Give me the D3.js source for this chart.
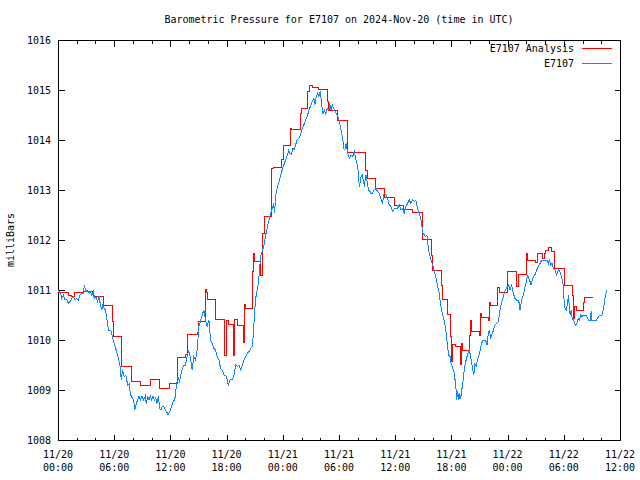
<!DOCTYPE html>
<html><head><meta charset="utf-8">
<script src="https://cdn.jsdelivr.net/npm/d3@7"></script>
<style>
body{margin:0;background:#fff}
svg{display:block}
text{font-family:"DejaVu Sans Mono",monospace;font-size:10px;fill:#000}
</style></head><body>
<svg id="c" width="640" height="480"></svg>
<script>
const title = "Barometric Pressure for E7107 on 2024-Nov-20 (time in UTC)";
const yLabel = "milliBars";
const seriesNames = ["E7107 Analysis", "E7107"];
const seriesColors = ["#ff0000", "#0f88ff"];
// hours since 11/20 00:00 UTC
const xTickHours = [0, 6, 12, 18, 24, 30, 36, 42, 48, 54, 60];
const xTickDates = ["11/20","11/20","11/20","11/20","11/21","11/21","11/21","11/21","11/22","11/22","11/22"];
const xTickTimes = ["00:00","06:00","12:00","18:00","00:00","06:00","12:00","18:00","00:00","06:00","12:00"];
const yTicks = [1008, 1009, 1010, 1011, 1012, 1013, 1014, 1015, 1016];

// E7107 Analysis: [hour, mb] (step series)
const analysis = [[0,1010.95],[1.07,1010.90],[1.39,1010.88],[1.71,1010.95],[2.68,1010.97],[3.64,1010.92],[3.75,1010.88],[4.82,1010.70],[5.79,1010.37],[5.89,1010.08],[6.75,1009.48],[7.82,1009.17],[8.79,1009.09],[9.86,1009.22],[10.82,1009.04],[11.89,1009.13],[12.75,1009.65],[13.61,1009.72],[13.82,1010.12],[14.89,1010.15],[15.0,1010.37],[15.75,1011.01],[15.86,1010.95],[15.96,1010.81],[16.82,1010.41],[17.79,1009.70],[17.95,1010.40],[18.21,1010.32],[18.75,1009.70],[18.86,1010.42],[19.18,1010.30],[19.82,1009.96],[19.93,1010.72],[20.04,1010.63],[20.79,1011.37],[20.89,1011.74],[21.0,1011.57],[21.64,1011.30],[21.80,1011.80],[21.86,1012.14],[22.07,1012.47],[22.82,1013.43],[23.04,1013.45],[23.89,1013.61],[24.11,1013.90],[24.86,1014.23],[24.96,1014.21],[25.93,1014.53],[26.04,1014.63],[26.68,1014.97],[26.89,1015.10],[27.21,1015.05],[27.86,1015.01],[28.82,1014.77],[28.93,1014.60],[29.89,1014.40],[30.86,1013.75],[32.79,1013.40],[33.0,1013.23],[33.86,1013.03],[34.82,1012.85],[35.89,1012.70],[36.86,1012.62],[37.82,1012.55],[38.89,1012.01],[39.86,1011.70],[39.96,1011.39],[40.93,1011.10],[41.04,1010.81],[41.57,1010.52],[41.89,1010.07],[42.0,1009.57],[42.11,1009.91],[42.43,1009.87],[42.96,1009.52],[43.07,1009.93],[43.18,1009.80],[43.93,1010.10],[44.04,1010.40],[44.14,1010.17],[45.0,1010.10],[45.11,1010.54],[45.21,1010.45],[45.96,1010.40],[46.07,1010.76],[46.18,1010.70],[46.93,1011.05],[47.14,1010.95],[48.0,1011.38],[48.96,1011.07],[49.18,1011.31],[50.04,1011.73],[50.14,1011.60],[51.0,1011.55],[51.21,1011.73],[51.75,1011.64],[51.96,1011.73],[52.07,1011.80],[52.39,1011.85],[52.71,1011.78],[53.04,1011.43],[54.11,1011.10],[54.96,1010.90],[55.07,1010.43],[55.18,1010.67],[55.39,1010.59],[56.14,1010.75],[56.25,1010.86],[57.11,1010.86]];

// E7107 station observations: [hour, mb]
const station = [[0,1010.99],[0.29,1010.93],[0.39,1010.83],[0.57,1010.90],[0.75,1010.80],[0.93,1010.81],[1.11,1010.73],[1.29,1010.77],[1.46,1010.83],[1.64,1010.87],[1.82,1010.80],[2.0,1010.83],[2.18,1010.80],[2.36,1010.90],[2.54,1010.93],[2.71,1010.93],[2.82,1011.10],[2.96,1010.97],[3.14,1010.99],[3.32,1010.93],[3.43,1010.98],[3.61,1010.90],[3.79,1010.97],[3.89,1010.83],[4.07,1010.85],[4.21,1010.77],[4.39,1010.88],[4.50,1010.73],[4.68,1010.60],[4.79,1010.70],[4.93,1010.63],[5.07,1010.60],[5.21,1010.43],[5.39,1010.20],[5.64,1010.19],[5.82,1010.07],[6.0,1009.93],[6.21,1009.80],[6.36,1009.70],[6.64,1009.47],[6.75,1009.21],[6.89,1009.40],[7.07,1009.27],[7.25,1009.30],[7.43,1009.10],[7.61,1009.13],[7.71,1008.93],[7.89,1008.85],[8.07,1008.80],[8.21,1008.60],[8.36,1008.73],[8.50,1008.80],[8.64,1008.88],[8.79,1008.80],[8.96,1008.88],[9.14,1008.80],[9.32,1008.88],[9.43,1008.72],[9.57,1008.88],[9.71,1008.80],[9.86,1008.88],[10.0,1008.80],[10.14,1008.88],[10.29,1008.80],[10.43,1008.85],[10.57,1008.73],[10.71,1008.87],[10.86,1008.63],[11.0,1008.60],[11.14,1008.68],[11.29,1008.67],[11.46,1008.61],[11.64,1008.55],[11.75,1008.50],[11.93,1008.57],[12.11,1008.67],[12.29,1008.77],[12.46,1008.80],[12.61,1009.03],[12.79,1009.27],[12.96,1009.17],[13.11,1009.30],[13.25,1009.40],[13.43,1009.50],[13.61,1009.50],[13.79,1009.67],[13.96,1009.79],[14.14,1009.63],[14.32,1009.40],[14.50,1009.67],[14.68,1009.60],[14.86,1009.80],[15.04,1010.27],[15.21,1010.37],[15.39,1010.50],[15.57,1010.60],[15.75,1010.40],[15.93,1010.27],[16.11,1010.40],[16.29,1010.0],[16.46,1009.93],[16.64,1009.83],[16.82,1009.80],[17.0,1009.67],[17.18,1009.60],[17.36,1009.43],[17.54,1009.40],[17.71,1009.30],[17.89,1009.30],[18.07,1009.20],[18.18,1009.10],[18.36,1009.20],[18.61,1009.21],[18.79,1009.30],[18.96,1009.50],[19.14,1009.47],[19.32,1009.50],[19.50,1009.40],[19.68,1009.50],[19.86,1009.60],[20.04,1009.67],[20.21,1009.73],[20.39,1009.77],[20.57,1009.83],[20.75,1009.87],[20.89,1010.2],[21.0,1010.6],[21.14,1010.87],[21.29,1011.03],[21.43,1011.2],[21.54,1011.47],[21.64,1011.67],[21.79,1011.77],[21.89,1011.83],[22.04,1011.93],[22.14,1012.07],[22.29,1012.2],[22.43,1012.33],[22.57,1012.43],[22.71,1012.53],[22.86,1012.63],[23.0,1012.7],[23.14,1012.55],[23.21,1012.87],[23.36,1013.0],[23.5,1013.1],[23.64,1013.2],[23.79,1013.3],[23.93,1013.4],[24.11,1013.5],[24.29,1013.6],[24.46,1013.68],[24.64,1013.8],[24.75,1013.73],[24.93,1013.72],[25.07,1013.83],[25.21,1013.81],[25.36,1013.9],[25.54,1014.01],[25.71,1014.03],[25.89,1014.1],[26.07,1014.23],[26.25,1014.3],[26.43,1014.4],[26.61,1014.47],[26.79,1014.6],[26.96,1014.67],[27.14,1014.77],[27.32,1014.83],[27.43,1014.7],[27.57,1014.87],[27.71,1014.93],[27.86,1014.87],[28.0,1014.98],[28.14,1014.73],[28.29,1014.53],[28.43,1014.6],[28.57,1014.52],[28.75,1014.63],[28.93,1014.6],[29.0,1014.73],[29.14,1014.6],[29.29,1014.7],[29.5,1014.6],[29.82,1014.5],[30.0,1014.4],[30.14,1014.27],[30.29,1014.13],[30.43,1013.97],[30.54,1013.81],[30.71,1013.83],[30.75,1013.93],[30.93,1013.73],[31.11,1013.63],[31.29,1013.7],[31.46,1013.67],[31.64,1013.77],[31.82,1013.6],[32.0,1013.47],[32.14,1013.13],[32.18,1013.07],[32.36,1013.27],[32.5,1013.3],[32.64,1013.13],[32.71,1013.1],[32.89,1013.3],[33.0,1013.17],[33.14,1013.0],[33.25,1013.0],[33.39,1012.93],[33.57,1012.93],[33.75,1013.0],[33.96,1013.03],[34.11,1012.97],[34.29,1012.93],[34.46,1012.83],[34.64,1012.73],[34.82,1012.93],[35.0,1012.9],[35.18,1012.83],[35.36,1012.7],[35.54,1012.67],[35.71,1012.57],[35.89,1012.63],[36.07,1012.63],[36.25,1012.63],[36.43,1012.7],[36.61,1012.6],[36.79,1012.63],[36.96,1012.53],[37.14,1012.67],[37.32,1012.73],[37.5,1012.8],[37.68,1012.73],[37.86,1012.8],[38.04,1012.77],[38.21,1012.8],[38.39,1012.63],[38.57,1012.53],[38.75,1012.4],[38.86,1012.27],[38.96,1012.13],[39.11,1012.1],[39.21,1012.07],[39.39,1012.1],[39.5,1011.9],[39.64,1011.73],[39.82,1011.6],[40.0,1011.5],[40.18,1011.37],[40.36,1011.23],[40.54,1011.07],[40.71,1010.93],[40.82,1010.73],[40.93,1010.63],[41.07,1010.5],[41.25,1010.37],[41.36,1010.27],[41.5,1010.03],[41.61,1009.83],[41.71,1009.7],[41.86,1009.67],[41.96,1009.53],[42.14,1009.43],[42.32,1009.33],[42.43,1009.13],[42.5,1009.0],[42.57,1008.81],[42.68,1008.97],[42.79,1008.8],[42.89,1008.93],[43.0,1008.83],[43.11,1009.0],[43.21,1009.13],[43.32,1009.33],[43.43,1009.47],[43.57,1009.6],[43.75,1009.73],[43.93,1009.79],[44.11,1009.6],[44.29,1009.4],[44.39,1009.3],[44.5,1009.53],[44.64,1009.47],[44.75,1009.57],[44.89,1009.67],[45.0,1009.73],[45.18,1009.9],[45.36,1010.0],[45.54,1010.0],[45.71,1009.97],[45.82,1009.9],[45.93,1010.13],[46.07,1010.2],[46.18,1010.03],[46.36,1010.13],[46.5,1010.2],[46.64,1010.3],[46.79,1010.33],[47.0,1010.37],[47.14,1010.53],[47.25,1010.67],[47.43,1010.8],[47.57,1010.87],[47.68,1010.97],[47.86,1011.03],[48.0,1011.07],[48.11,1011.1],[48.25,1011.0],[48.43,1011.1],[48.61,1010.93],[48.79,1010.83],[48.96,1010.8],[49.14,1010.8],[49.25,1010.73],[49.32,1010.6],[49.5,1010.8],[49.68,1010.9],[49.86,1011.07],[50.04,1011.2],[50.14,1011.3],[50.25,1011.23],[50.39,1011.17],[50.5,1011.1],[50.64,1011.2],[50.75,1011.27],[50.93,1011.31],[51.11,1011.4],[51.29,1011.47],[51.46,1011.53],[51.64,1011.6],[51.82,1011.6],[52.0,1011.6],[52.18,1011.6],[52.36,1011.53],[52.46,1011.6],[52.61,1011.5],[52.75,1011.53],[52.89,1011.43],[53.07,1011.4],[53.25,1011.3],[53.43,1011.4],[53.57,1011.37],[53.75,1011.27],[53.93,1011.1],[54.04,1010.77],[54.14,1010.63],[54.25,1010.6],[54.39,1010.73],[54.5,1010.9],[54.61,1010.6],[54.68,1010.5],[54.79,1010.6],[54.89,1010.43],[55.04,1010.4],[55.14,1010.35],[55.25,1010.3],[55.39,1010.33],[55.54,1010.43],[55.68,1010.4],[55.82,1010.5],[55.96,1010.47],[56.11,1010.5],[56.29,1010.5],[56.46,1010.47],[56.64,1010.4],[56.82,1010.4],[56.93,1010.57],[57.0,1010.4],[57.29,1010.4],[57.5,1010.4],[57.71,1010.47],[57.89,1010.5],[58.07,1010.5],[58.25,1010.63],[58.36,1010.8],[58.5,1010.93],[58.57,1011.0]];

const W = 640, H = 480;
const L = 58, R = 620, T = 40, B = 440;
const svg = d3.select("#c");

const x = d3.scaleLinear().domain([0, 60]).range([L, R]);
const y = d3.scaleLinear().domain([1008, 1016]).range([B, T]);

const minorX = d3.range(0, 61, 2).filter(h => h % 6 !== 0);

// frame
svg.append("rect").attr("x", L + 0.5).attr("y", T + 0.5)
  .attr("width", R - L).attr("height", B - T)
  .attr("fill", "none").attr("stroke", "#000").attr("shape-rendering", "crispEdges");

const tickG = svg.append("g").attr("stroke", "#000").attr("shape-rendering", "crispEdges");
// x ticks (bottom & top, mirrored)
xTickHours.forEach(h => {
  const px = Math.round(x(h)) + 0.5;
  tickG.append("line").attr("x1", px).attr("x2", px).attr("y1", B + 0.5).attr("y2", B + 0.5 - 6);
  tickG.append("line").attr("x1", px).attr("x2", px).attr("y1", T + 0.5).attr("y2", T + 0.5 + 6);
});
minorX.forEach(h => {
  const px = Math.round(x(h)) + 0.5;
  tickG.append("line").attr("x1", px).attr("x2", px).attr("y1", B + 0.5).attr("y2", B + 0.5 - 3);
  tickG.append("line").attr("x1", px).attr("x2", px).attr("y1", T + 0.5).attr("y2", T + 0.5 + 3);
});
// y ticks (left & right)
yTicks.forEach(v => {
  const py = Math.round(y(v)) + 0.5;
  tickG.append("line").attr("x1", L + 0.5).attr("x2", L + 0.5 + 6).attr("y1", py).attr("y2", py);
  tickG.append("line").attr("x1", R + 0.5).attr("x2", R + 0.5 - 6).attr("y1", py).attr("y2", py);
});

// y tick labels
svg.append("g").selectAll("text").data(yTicks).join("text")
  .attr("x", L - 7).attr("y", d => y(d) + 3.5)
  .attr("text-anchor", "end").text(d => d);

// x tick labels (two lines)
const xl = svg.append("g").selectAll("text").data(xTickHours).join("text")
  .attr("text-anchor", "middle");
xl.append("tspan").attr("x", d => x(d)).attr("y", 457.5).text((d, i) => xTickDates[i]);
xl.append("tspan").attr("x", d => x(d)).attr("y", 470.5).text((d, i) => xTickTimes[i]);

// title
svg.append("text").attr("x", (L + R) / 2).attr("y", 22.5)
  .attr("text-anchor", "middle").text(title);

// y axis label
svg.append("text").attr("transform", `translate(13.5,${(T + B) / 2}) rotate(-90)`)
  .attr("text-anchor", "middle").text(yLabel);

// series
const line = d3.line().x(d => x(d[0])).y(d => y(d[1]));
svg.append("path").datum(analysis)
  .attr("d", line.curve(d3.curveStepAfter))
  .attr("fill", "none").attr("stroke", seriesColors[0]).attr("stroke-width", 1)
  .attr("shape-rendering", "crispEdges");
svg.append("path").datum(station)
  .attr("d", d3.line().x(d => x(d[0])).y(d => y(d[1])))
  .attr("fill", "none").attr("stroke", seriesColors[1]).attr("stroke-width", 1)
  .attr("shape-rendering", "crispEdges");

// legend
seriesNames.forEach((n, i) => {
  const ly = 48 + i * 15;
  svg.append("text").attr("x", 574).attr("y", ly + 3.5).attr("text-anchor", "end").text(n);
  svg.append("line").attr("x1", 582).attr("x2", 612).attr("y1", ly + 0.5).attr("y2", ly + 0.5)
    .attr("stroke", seriesColors[i]).attr("stroke-width", 1).attr("shape-rendering", "crispEdges");
});
</script>
</body></html>
